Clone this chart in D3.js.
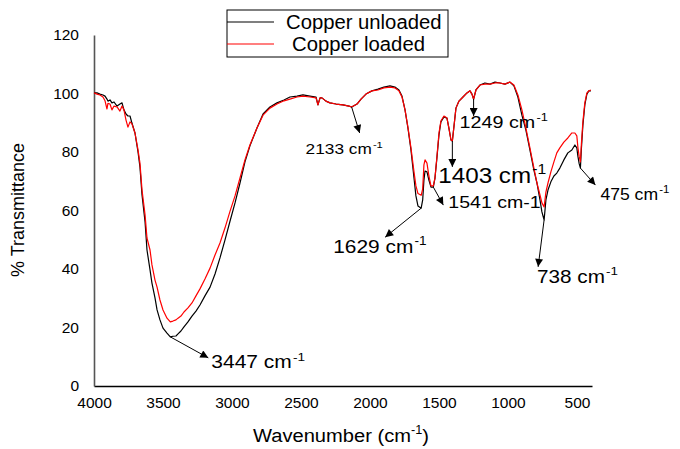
<!DOCTYPE html>
<html>
<head>
<meta charset="utf-8">
<script src="https://cdn.jsdelivr.net/npm/d3@7"></script>
<style>
  html, body { margin: 0; padding: 0; background: #fff; }
  svg { display: block; font-family: "Liberation Sans", Arial, sans-serif; }
</style>
</head>
<body>
<svg id="chart" width="680" height="449"></svg>
<script>
// FTIR spectra (wavenumber in cm-1, % transmittance)
const wavenumber = [4000,3978,3957,3935,3920,3906,3899,3884,3870,3855,3833,3812,3797,3783,3768,3754,3739,3725,3703,3681,
  3667,3652,3630,3616,3594,3580,3558,3543,3522,3500,3471,3447,3428,3406,3391,3370,3348,3319,3290,3261,
  3232,3196,3159,3123,3087,3051,3014,2978,2942,2906,2870,2819,2775,2725,2674,2623,2580,2529,2486,2435,
  2391,2377,2362,2348,2319,2290,2246,2196,2152,2133,2094,2065,2029,1986,1942,1899,1855,1819,1790,1768,
  1746,1725,1703,1681,1667,1652,1629,1618,1609,1601,1587,1573,1558,1541,1529,1515,1500,1486,1464,1442,
  1428,1413,1403,1391,1377,1355,1326,1297,1275,1261,1249,1232,1203,1167,1130,1094,1058,1022,986,957,
  928,899,870,841,812,790,768,754,747,738,725,710,689,667,646,624,595,566,537,515,
  501,493,484,475,468,457,443,428,414,399];

const unloaded = [100.2,100.2,99.8,99.5,99.1,98.1,97.4,97.8,96.8,97.1,95.7,96.4,96.8,94.4,93.0,92.3,92.3,89.9,86.5,80.0,
  74.9,65.3,56.1,46.5,39.7,35.2,30.1,26.0,22.6,19.8,18.1,16.8,17.0,17.1,17.8,18.8,20.2,21.9,23.9,25.6,
  27.7,30.8,33.8,38.3,43.8,49.9,56.4,62.6,69.4,76.6,82.1,88.2,93.0,95.4,96.8,97.8,98.8,99.1,99.5,99.1,
  98.8,96.1,98.5,98.5,97.4,96.8,96.4,96.1,95.7,95.4,96.4,98.1,99.8,100.9,101.5,102.2,102.6,102.2,101.2,99.1,
  94.4,88.2,80.7,71.1,65.0,61.5,60.8,63.6,70.4,73.5,73.2,70.4,68.0,68.0,71.1,77.9,85.8,90.3,92.0,91.6,
  88.2,84.1,83.8,88.9,95.0,97.4,98.8,100.2,100.9,99.8,98.1,101.2,102.9,103.6,103.2,103.9,103.6,103.2,103.9,102.6,
  98.8,92.6,87.5,80.7,73.8,69.4,63.6,59.5,58.3,56.8,63.6,67.0,69.8,71.8,72.8,74.5,77.3,79.7,80.7,82.4,
  81.4,78.5,76.0,74.5,81.0,89.2,96.1,99.8,100.9,100.9];

const loaded = [100.2,99.8,99.5,98.8,97.5,94.7,96.6,96.4,94.4,95.7,95.4,94.0,95.7,94.4,90.9,88.5,90.3,89.6,86.5,80.7,
  76.2,67.0,58.5,50.6,46.5,41.4,36.2,33.8,29.4,26.0,23.2,21.9,22.2,22.6,23.2,23.9,25.3,26.7,28.4,30.8,
  33.2,36.6,40.3,44.8,48.9,54.0,59.8,65.0,71.1,77.3,82.4,88.2,92.6,95.0,96.4,97.5,98.1,98.8,99.1,98.8,
  98.5,96.1,98.5,98.5,97.4,96.8,96.4,96.1,95.7,95.4,96.4,98.1,99.8,100.9,101.2,101.9,102.2,101.9,100.9,98.8,
  94.4,88.5,81.4,73.2,68.4,65.8,65.2,67.4,75.6,77.3,76.2,71.8,68.4,68.4,71.1,78.3,86.5,90.6,92.3,91.6,
  88.2,84.1,83.8,88.9,95.0,97.4,98.8,100.2,100.9,99.8,98.1,101.2,102.9,103.2,103.2,103.6,103.6,103.2,103.9,102.9,
  99.5,94.4,88.2,81.4,74.5,69.4,65.3,62.6,62.0,61.2,66.3,69.4,73.2,76.6,79.7,81.4,83.4,84.8,86.5,86.5,
  85.5,81.5,78.5,76.6,82.6,90.3,96.8,100.2,100.9,101.2];

const seriesNames = ["Copper unloaded", "Copper loaded"];
const seriesColors = ["#000000", "#ff0000"];

const xTicks = [4000, 3500, 3000, 2500, 2000, 1500, 1000, 500];
const yTicks = [0, 20, 40, 60, 80, 100, 120];

// Peak labels: wavenumber of the band, label text, whether "-1" is a superscript
const peakWavenumbers = [3447, 2133, 1629, 1541, 1403, 1249, 738, 475];
const peakLabels = ["3447 cm", "2133 cm", "1629 cm", "1541 cm-1", "1403 cm", "1249 cm", "738 cm", "475 cm"];
const peakSuperscript = [true, true, true, false, true, true, true, true];

// Layout of each label: font size, horizontal stretch, arrow offset (dx, dy), text offset from arrow tip
const peakLayout = [
  { size: 17.5, sx: 1.2, dx: 38, dy: 21, tx: 3, ty: 10 },
  { size: 15, sx: 1.15, dx: 8, dy: 26, tx: -54, ty: 21 },
  { size: 19, sx: 1.1, dx: -36, dy: 29, tx: -52, ty: 16 },
  { size: 17, sx: 1.15, dx: 10, dy: 18, tx: 5, ty: 3 },
  { size: 22, sx: 1.1, dx: 0, dy: 26, tx: -14, ty: 16 },
  { size: 17, sx: 1.16, dx: 0, dy: 17, tx: -14, ty: 12 },
  { size: 18, sx: 1.15, dx: -6, dy: 47, tx: -1, ty: 16 },
  { size: 16, sx: 1.1, dx: 15, dy: 17, tx: 5, ty: 15 }
];

const svg = d3.select("#chart");
const margin = { left: 94, right: 88, top: 35, bottom: 63 };
const W = 680, H = 449;

const x = d3.scaleLinear().domain([4000, 391]).range([margin.left, W - margin.right]);
const y = d3.scaleLinear().domain([0, 120]).range([H - margin.bottom, margin.top]);

// arrowhead marker
svg.append("defs").append("marker")
  .attr("id", "arrow")
  .attr("viewBox", "0 0 10 10")
  .attr("refX", 10).attr("refY", 5)
  .attr("markerWidth", 10).attr("markerHeight", 8)
  .attr("markerUnits", "userSpaceOnUse")
  .attr("orient", "auto")
  .append("path").attr("d", "M0,0 L10,5 L0,10 Z").attr("fill", "#000");

// x axis
const xAxis = svg.append("g")
  .attr("transform", `translate(0,${y(0)})`)
  .call(d3.axisBottom(x).tickValues(xTicks).tickSize(0).tickPadding(11).tickFormat(d3.format("d")));
xAxis.select(".domain").attr("stroke", "#000").attr("stroke-width", 1.3);
xAxis.selectAll("text").attr("font-size", 15.5).attr("fill", "#000")
  .attr("font-family", "Liberation Sans, Arial, sans-serif");

// y axis
const yAxis = svg.append("g")
  .attr("transform", `translate(${margin.left},0)`)
  .call(d3.axisLeft(y).tickValues(yTicks).tickSize(0).tickPadding(15).tickFormat(d3.format("d")));
yAxis.select(".domain").attr("stroke", "#555").attr("stroke-width", 1.6);
yAxis.selectAll("text").attr("font-size", 15.5).attr("fill", "#000")
  .attr("font-family", "Liberation Sans, Arial, sans-serif");

// axis titles
const xTitle = svg.append("text")
  .attr("transform", "translate(341,442) scale(1.06,1)")
  .attr("text-anchor", "middle")
  .attr("font-size", 19);
xTitle.append("tspan").text("Wavenumber (cm");
xTitle.append("tspan").attr("font-size", 12).attr("dy", -8).text("-1");
xTitle.append("tspan").attr("dy", 8).text(")");

svg.append("text")
  .attr("transform", "translate(24,210) rotate(-90)")
  .attr("text-anchor", "middle")
  .attr("font-size", 18)
  .text("% Transmittance");

// spectra
const line = d3.line().x(d => x(d[0])).y(d => y(d[1]));
[unloaded, loaded].forEach((vals, i) => {
  svg.append("path")
    .datum(wavenumber.map((w, k) => [w, vals[k]]))
    .attr("fill", "none")
    .attr("stroke", seriesColors[i])
    .attr("stroke-width", 1.2)
    .attr("stroke-linejoin", "round")
    .attr("d", line);
});

// peak annotations
peakWavenumbers.forEach((wn, i) => {
  const k = wavenumber.indexOf(wn);
  const x0 = x(wn), y0 = y(unloaded[k]);
  const L = peakLayout[i];
  const x1 = x0 + L.dx, y1 = y0 + L.dy;
  svg.append("line")
    .attr("x1", x0).attr("y1", y0).attr("x2", x1).attr("y2", y1)
    .attr("stroke", "#000").attr("stroke-width", 1)
    .attr("marker-end", "url(#arrow)");
  const t = svg.append("text")
    .attr("transform", `translate(${x1 + L.tx},${y1 + L.ty}) scale(${L.sx},1)`)
    .attr("font-size", L.size).attr("fill", "#000");
  t.append("tspan").text(peakLabels[i]);
  if (peakSuperscript[i]) {
    t.append("tspan").attr("font-size", L.size * 0.65).attr("dx", 1).attr("dy", -L.size * 0.42).text("-1");
  }
});

// legend
const lg = svg.append("g");
lg.append("rect")
  .attr("x", 227).attr("y", 10).attr("width", 221).attr("height", 47)
  .attr("fill", "#fff").attr("stroke", "#000").attr("stroke-width", 1);
const legendY = [22, 44];
const legendTextX = [286, 292];
seriesNames.forEach((name, i) => {
  lg.append("line")
    .attr("x1", 227).attr("x2", 274)
    .attr("y1", legendY[i]).attr("y2", legendY[i])
    .attr("stroke", seriesColors[i]).attr("stroke-width", 1.2);
  lg.append("text")
    .attr("transform", `translate(${legendTextX[i]},${legendY[i] + 7}) scale(1.04,1)`)
    .attr("font-size", 19.5).attr("fill", "#000")
    .text(name);
});
</script>
</body>
</html>
